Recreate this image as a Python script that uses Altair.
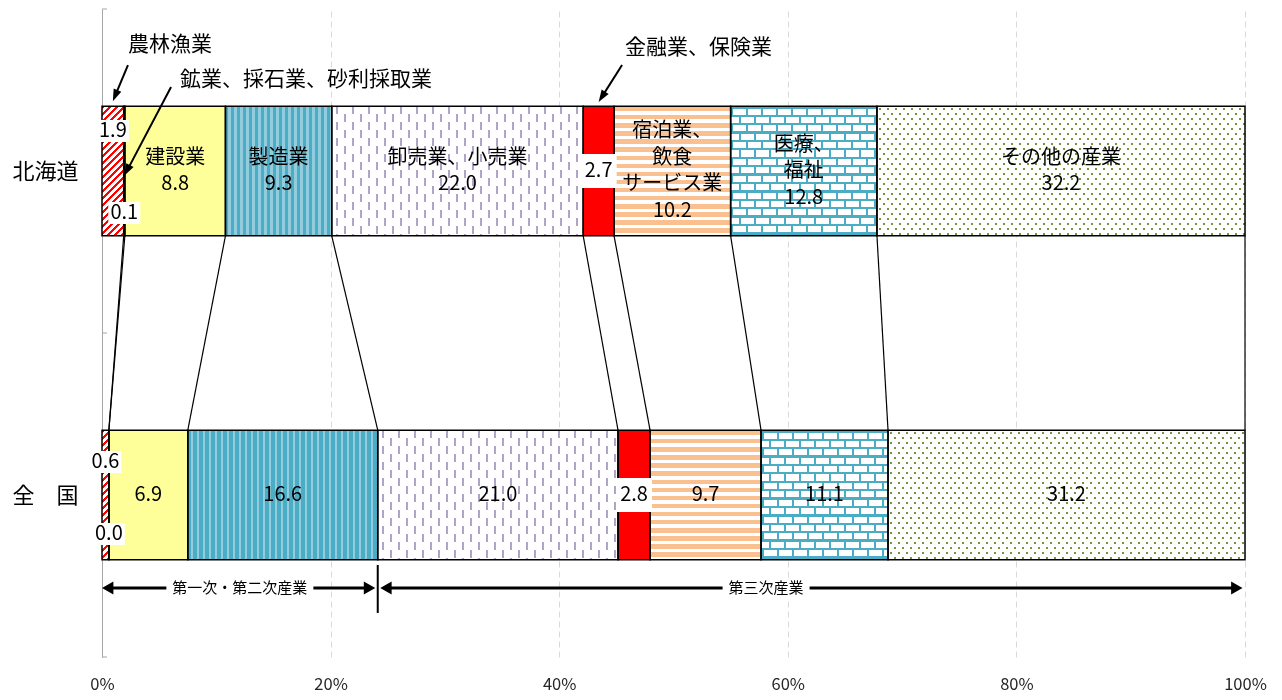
import math
import altair as alt
import pandas as pd

# ---------------------------------------------------------------- data
regions = ["北海道", "全国"]
region_labels = ["北海道", "全　国"]
industries = ["農林漁業", "鉱業、採石業、砂利採取業", "建設業", "製造業",
              "卸売業、小売業", "金融業、保険業", "宿泊業、飲食サービス業",
              "医療、福祉", "その他の産業"]
captions = ["", "", "建設業", "製造業", "卸売業、小売業", "",
            "宿泊業、\n飲食\nサービス業", "医療、\n福祉", "その他の産業"]
share_hokkaido = [1.9, 0.1, 8.8, 9.3, 22.0, 2.7, 10.2, 12.8, 32.2]
share_zenkoku = [0.6, 0.0, 6.9, 16.6, 21.0, 2.8, 9.7, 11.1, 31.2]
x_ticks = [0, 20, 40, 60, 80, 100]
sector_names = ["第一次・第二次産業", "第三次産業"]

# ---------------------------------------------------------------- layout
W, H = 1143, 648            # plot area in px
ROW_PX = H / 2              # y domain covers two rows (0..2)
BAR_HALF = 0.2              # half bar thickness, in row units
BAR_PX = 2 * BAR_HALF * ROW_PX
FONT = "Noto Sans CJK JP"
LABEL_SIZE = 20
LINE_H = 26.5
WHITE, BLACK = "#FFFFFF", "#000000"

xs = alt.Scale(domain=[0, 100], nice=False, zero=False)
ys = alt.Scale(domain=[0, 2], reverse=True, nice=False, zero=False)

label_expr = " : ".join(
    [f"datum.value < {k + 1} ? '{lab}'" for k, lab in enumerate(region_labels[:-1])]
    + [f"'{region_labels[-1]}'"]
)
x_axis = alt.Axis(values=x_ticks, labelExpr="datum.value + '%'", grid=True,
                  gridDash=[6, 4], gridColor="#D9D9D9", gridWidth=1, domain=False,
                  ticks=False, labelPadding=19, labelFont=FONT, labelFontSize=16.5,
                  labelColor="#262626", labelFlush=False, title=None)
y_axis = alt.Axis(values=[0.5, 1.5], labelExpr=label_expr, ticks=False,
                  domain=True, domainColor="#A6A6A6", domainWidth=1, grid=False,
                  title=None, labelFont=FONT, labelFontSize=22, labelColor="black",
                  labelPadding=24)


# every layer carries the same axis definition so they merge into one
def X(field):
    return alt.X(field, scale=xs, axis=x_axis)


def Y(field):
    return alt.Y(field, scale=ys, axis=y_axis)


# ---------------------------------------------------------------- segments
rows = []
for r, shares in enumerate([share_hokkaido, share_zenkoku]):
    total = sum(shares)
    cum = 0.0
    for i, v in enumerate(shares):
        start = cum / total * 100
        cum += v
        end = cum / total * 100
        rows.append(dict(region=regions[r], r=r, idx=i, industry=industries[i], value=v,
                         start=start, end=end, mid=(start + end) / 2,
                         yc=r + 0.5, y0=r + 0.5 - BAR_HALF, y1=r + 0.5 + BAR_HALF,
                         wpx=(end - start) / 100 * W))
seg = pd.DataFrame(rows)


def seg_row(r, i):
    return seg[(seg.r == r) & (seg.idx == i)].iloc[0]


# ---------------------------------------------------------------- fill patterns
def stops_along(length, period, on_w, phase, on, off):
    """Hard-edged stripe stops along a box side of `length` px."""
    iv = []
    k = math.floor(-phase / period) - 1
    while True:
        s = phase + k * period
        if s >= length:
            break
        e = s + on_w
        s2, e2 = max(s, 0.0), min(e, length)
        if e2 > s2:
            iv.append((s2, e2))
        k += 1
    pts, cur = [], 0.0
    for s, e in iv:
        if s > cur:
            pts += [(cur, off), (s, off)]
        pts += [(s, on), (e, on)]
        cur = e
    if cur < length:
        pts += [(cur, off), (length, off)]
    return [{"offset": round(p / length, 5), "color": c} for p, c in pts]


def lin(stops, x2, y2):
    return {"gradient": "linear", "x1": 0, "y1": 0, "x2": x2, "y2": y2, "stops": stops}


def diagonal(w, h, period, on_w, on, off):
    # stripes running "/" at 45 degrees in pixel space
    L = w + h
    k = L / (w * w + h * h)
    return lin(stops_along(L, period, on_w, 0, on, off), w * k, h * k)


def staggered(w, h, col_period, line_w, col_phase, row_period, ink, extra=None):
    # columns alternate phase from one row band to the next (binary mask, then tinted)
    steps = [
        (lin(stops_along(w, col_period, line_w, col_phase, WHITE, BLACK), 1, 0), None),
        (lin(stops_along(h, row_period, row_period / 2, row_period / 2, WHITE, BLACK), 0, 1), "difference"),
        (lin(stops_along(w, col_period / 2, line_w, col_phase, WHITE, BLACK), 1, 0), "darken"),
    ]
    if extra:
        steps.append(extra)
    steps += [(WHITE, "difference"), (ink, "lighten")]
    return steps


def pattern_steps(i, w, h):
    if i == 0:
        return [(diagonal(w, h, 7.0, 3.6, "#FF0000", WHITE), None)]
    if i == 1:
        return [("#7F7F7F", None)]
    if i == 2:
        return [("#FFFF99", None)]
    if i == 3:
        return [(lin(stops_along(w, 6.0, 2.2, 3.0, "#93CDDD", "#4BACC6"), 1, 0), None)]
    if i == 4:
        return staggered(w, h, 16.0, 2.0, 4.0, 16.0, "#B3A2C7")
    if i == 5:
        return [("#FF0000", None)]
    if i == 6:
        return [(lin(stops_along(h, 8.1, 4.4, 0.8, "#FAC090", WHITE), 0, 1), None)]
    if i == 7:
        mortar = (lin(stops_along(h, 8.4, 2.3, 0.0, WHITE, BLACK), 0, 1), "lighten")
        return staggered(w, h, 15.0, 2.3, 0.5, 16.8, "#4BACC6", mortar)
    dots = (lin(stops_along(h, 5.0, 1.8, 1.6, WHITE, BLACK), 0, 1), "darken")
    return staggered(w, h, 8.0, 1.8, 2.0, 10.0, "#77933C", dots)


layers = []

# small inward ticks at the row boundaries of the category axis
bounds = pd.DataFrame({"b": [0, 1, 2]})
layers.append(
    alt.Chart(bounds).mark_rule(color="#A6A6A6", strokeWidth=1).encode(
        x=alt.value(0), x2=alt.value(5), y=Y("b:Q"))
)

pos = dict(x=X("start:Q"), x2="end:Q", y=Y("y0:Q"), y2="y1:Q")

for _, s in seg.iterrows():
    if s.wpx <= 0:
        continue
    for fill, blend in pattern_steps(int(s.idx), float(s.wpx), BAR_PX):
        kw = dict(fill=fill, strokeWidth=0)
        if blend:
            kw["blend"] = blend
        layers.append(
            alt.Chart(seg)
            .transform_filter(f"datum.r == {int(s.r)} && datum.idx == {int(s.idx)}")
            .mark_rect(**kw)
            .encode(**pos)
        )

# segment outlines
layers.append(alt.Chart(seg).mark_rect(filled=False, stroke="black", strokeWidth=1.5).encode(**pos))

# ---------------------------------------------------------------- series lines
h_seg = seg[seg.r == 0].reset_index(drop=True)
z_seg = seg[seg.r == 1].reset_index(drop=True)
links = pd.DataFrame({
    "xa": h_seg["end"], "xb": z_seg["end"],
    "ya": [0.5 + BAR_HALF] * len(h_seg), "yb": [1.5 - BAR_HALF] * len(z_seg),
})
layers.append(
    alt.Chart(links).mark_rule(color="black", strokeWidth=1.2).encode(
        x=X("xa:Q"), x2="xb:Q", y=Y("ya:Q"), y2="yb:Q")
)

# ---------------------------------------------------------------- value labels
OFFSET_PX = {(0, 0): -40, (0, 1): 42, (1, 0): -33, (1, 1): 39}
lab_rows, box_rows = [], []
for _, s in seg.iterrows():
    r, i = int(s.r), int(s.idx)
    txt = f"{s.value:.1f}"
    ly = s.yc
    if i in (0, 1):
        ly = s.yc + OFFSET_PX[(r, i)] / ROW_PX
        box_rows.append(dict(x=s.mid, y=ly, bw=32, bh=22))
    elif i == 5:
        box_rows.append(dict(x=s.mid, y=ly, bw=36, bh=34))
    elif r == 0 and captions[i]:
        txt = captions[i] + "\n" + txt
    n_lines = txt.count("\n") + 1
    # first line sits at y; shift so the whole block is centred
    ly_text = ly - (n_lines - 1) / 2 * LINE_H / ROW_PX
    lab_rows.append(dict(x=s.mid, y=ly_text, text=txt))
labels = pd.DataFrame(lab_rows)


def box_layer(x, y, bw, bh):
    a = bw / bh
    path = f"M{-a:.3f},-1L{a:.3f},-1L{a:.3f},1L{-a:.3f},1Z"
    return alt.Chart(pd.DataFrame({"x": [x], "y": [y]})).mark_point(
        shape=path, size=bh * bh, filled=True, fill="white", strokeWidth=0, opacity=1
    ).encode(x=X("x:Q"), y=Y("y:Q"))


for b in box_rows:
    layers.append(box_layer(b["x"], b["y"], b["bw"], b["bh"]))

layers.append(
    alt.Chart(labels).mark_text(font=FONT, fontSize=LABEL_SIZE, lineBreak="\n", lineHeight=LINE_H,
                                color="black", align="center", baseline="middle").encode(
        x=X("x:Q"), y=Y("y:Q"), text="text:N")
)

# ---------------------------------------------------------------- callouts above the bars
TOP_HEAD = "M0,0L0.75,2.2L-0.75,2.2Z"
TOP_HEAD_PX = 12.0
callouts = [
    # label, label x, label y, arrow tail x, arrow tail y, target industry, tip y
    (industries[0], 2.27, 0.111, 2.27, 0.173, 0, 0.285),
    (industries[1], 6.82, 0.219, 6.04, 0.241, 1, 0.515),
    (industries[5], 45.76, 0.120, 45.5, 0.173, 5, 0.287),
]
c_text, c_line, c_head = [], [], []
for text, lx, ly, sx, sy, i, ty in callouts:
    tx = seg_row(0, i).mid
    dxp, dyp = (tx - sx) / 100 * W, (ty - sy) * ROW_PX
    L = math.hypot(dxp, dyp)
    back = TOP_HEAD_PX * 0.8
    bx = tx - dxp / L * back / W * 100
    by = ty - dyp / L * back / ROW_PX
    c_text.append(dict(x=lx, y=ly, text=text))
    c_line.append(dict(x=sx, y=sy, x2=bx, y2=by))
    c_head.append(dict(x=tx, y=ty, ang=math.degrees(math.atan2(dxp, -dyp)) % 360))

layers.append(
    alt.Chart(pd.DataFrame(c_line)).mark_rule(color="black", strokeWidth=2).encode(
        x=X("x:Q"), x2="x2:Q", y=Y("y:Q"), y2="y2:Q")
)
layers.append(
    alt.Chart(pd.DataFrame(c_head)).mark_point(shape=TOP_HEAD, size=121, filled=True,
                                               fill="black", strokeWidth=0, opacity=1).encode(
        x=X("x:Q"), y=Y("y:Q"), angle=alt.Angle("ang:Q", scale=None))
)
layers.append(
    alt.Chart(pd.DataFrame(c_text)).mark_text(font=FONT, fontSize=21, align="left",
                                              baseline="middle", color="black").encode(
        x=X("x:Q"), y=Y("y:Q"), text="text:N")
)

# ---------------------------------------------------------------- sector spans below
SPAN_Y = 1.787
SEP_Y = (1.716, 1.864)
GAP = 2.5 / W * 100
HEAD_LEN = 11.0 / W * 100
split = seg_row(1, 3).end
spans = [(0.0, split - GAP), (split + GAP, 100.0 - GAP)]
span_text_x = [split / 2, 58.1]

span_lines = pd.DataFrame([dict(x=a + HEAD_LEN * 0.6, x2=b - HEAD_LEN * 0.6, y=SPAN_Y) for a, b in spans])
span_heads = pd.DataFrame(
    [dict(x=a, y=SPAN_Y, ang=270) for a, _ in spans] + [dict(x=b, y=SPAN_Y, ang=90) for _, b in spans]
)
layers.append(
    alt.Chart(span_lines).mark_rule(color="black", strokeWidth=3).encode(
        x=X("x:Q"), x2="x2:Q", y=Y("y:Q"))
)
layers.append(
    alt.Chart(span_heads).mark_point(shape="M0,0L1.1,1.9L-1.1,1.9Z", size=144, filled=True,
                                     fill="black", strokeWidth=0, opacity=1).encode(
        x=X("x:Q"), y=Y("y:Q"), angle=alt.Angle("ang:Q", scale=None))
)
layers.append(
    alt.Chart(pd.DataFrame({"x": [split], "y": [SEP_Y[0]], "y2": [SEP_Y[1]]}))
    .mark_rule(color="black", strokeWidth=2)
    .encode(x=X("x:Q"), y=Y("y:Q"), y2="y2:Q")
)
SPAN_FONT = 15
for name, tx in zip(sector_names, span_text_x):
    layers.append(box_layer(tx, SPAN_Y, len(name) * SPAN_FONT + 12, 20))
layers.append(
    alt.Chart(pd.DataFrame({"x": span_text_x, "y": [SPAN_Y] * 2, "text": sector_names}))
    .mark_text(font=FONT, fontSize=SPAN_FONT, align="center", baseline="middle", color="black")
    .encode(x=X("x:Q"), y=Y("y:Q"), text="text:N")
)

chart = (
    alt.layer(*layers)
    .properties(width=W, height=H, autosize=alt.AutoSizeParams(type="none"),
                padding={"left": 102, "top": 9, "right": 37, "bottom": 43},
                background="white")
    .configure_view(stroke=None)
)

chart.save("out.html", embed_options={"renderer": "svg", "actions": False})
